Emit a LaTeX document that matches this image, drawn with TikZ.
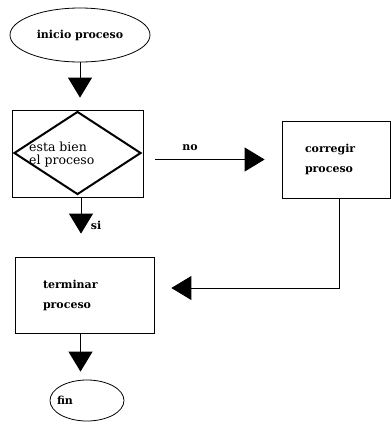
\documentclass[tikz,border=0pt]{standalone}
\usepackage{fontspec}
\setmainfont{DejaVu Serif}
\usepackage{tikz}
\usetikzlibrary{shapes.geometric,arrows.meta,positioning}

\begin{document}
\begin{tikzpicture}[x=1pt,y=-1pt,
	lbl/.style={font=\fontsize{11}{20}\selectfont\bfseries, inner sep=0pt},
	term/.style={ellipse, draw, line width=0.8pt, inner sep=0pt, lbl},
	box/.style={rectangle, draw, line width=0.8pt, lbl, align=left},
	flow/.style={line width=0.9pt, -{Triangle[length=20pt,width=24pt]}}]

	\useasboundingbox (0,0) rectangle (391,429);

	\node[term, minimum width=140pt, minimum height=54pt] (start) at (80,35) {inicio proceso};

	\node[box, minimum width=131pt, minimum height=87pt] (check) at (77.5,153.5) {};
	\node[diamond, draw, line width=2pt, inner sep=0pt, minimum width=127pt, minimum height=83pt] (dec) at (77.5,153) {};
	\node[anchor=west, align=left, inner sep=0pt, font=\fontsize{12.5}{13}\selectfont] (dectext) at (29,155) {esta bien\\el proceso};

	\node[box, minimum height=77pt, text width=62pt, inner xsep=23pt] (fix) at (336,159.5) {corregir\\proceso};
	\node[box, minimum height=76pt, text width=83pt, inner xsep=28pt] (end) at (84.5,295) {terminar\\proceso};

	\node[term, minimum width=74pt, minimum height=41pt] (fin) at (87,400.5) {};
	\node[lbl] (fintext) at (65,400) {fin};

	\node[lbl] (no) at (190,148) {no};
	\node[lbl] (si) at (96,225) {si};

	% connectors
	\draw[flow, shorten >=12pt] (start.south) -- (start.south |- check.north);
	\draw[flow, shorten <=12pt, shorten >=17pt] (check.east |- fix.west) -- (fix.west);
	\draw[flow, shorten >=23pt] ([xshift=3.5pt]check.south) -- ([xshift=3.5pt]check.south |- end.north);
	\draw[flow, shorten >=17pt] ([xshift=3pt]fix.south) |- ([yshift=7pt]end.east);
	\draw[flow, shorten >=8pt] ([xshift=-4pt]end.south) -- ([xshift=-4pt]end.south |- fin.north);
\end{tikzpicture}
\end{document}
